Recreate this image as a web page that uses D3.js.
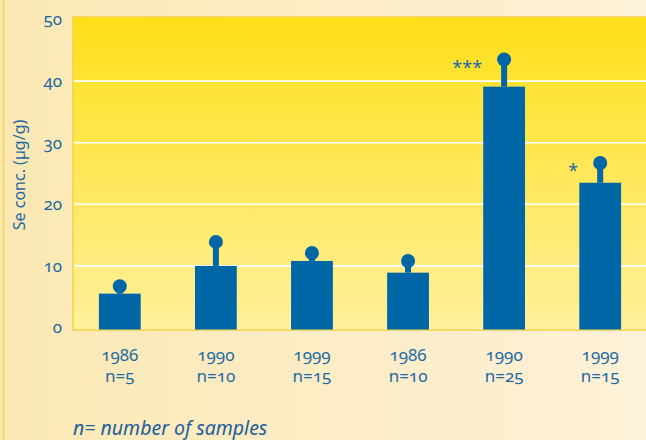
<!DOCTYPE html>
<html><head><meta charset="utf-8">
<script src="https://cdn.jsdelivr.net/npm/d3@7"></script>
<style>
html,body{margin:0;padding:0;background:#fbebb8;}
svg{display:block;}
text{font-family:"Noto Sans","DejaVu Sans",sans-serif;font-feature-settings:"onum" 1;font-variant-numeric:oldstyle-nums;}
</style></head><body>
<svg id="c" width="646" height="440"></svg>
<script>
const years = ["1986","1990","1999","1986","1990","1999"];
const nLabels = ["n=5","n=10","n=15","n=10","n=25","n=15"];
const values = [5.5, 10.0, 10.8, 8.9, 39.1, 23.5];
const errTop = [6.7, 13.9, 12.1, 10.8, 43.5, 26.7];
const signif = ["", "", "", "", "***", "*"];
const yTicks = [0, 10, 20, 30, 40, 50];

(function(){
const svg = d3.select("#c");
const W = 646, H = 440;
const blue = "#0066a6", txt = "#1d6aa5";
const defs = svg.append("defs");
const bg = defs.append("linearGradient").attr("id","bg").attr("x1",0).attr("x2",1).attr("y1",0).attr("y2",0);
bg.append("stop").attr("offset","0").attr("stop-color","#fbe8b3");
bg.append("stop").attr("offset","1").attr("stop-color","#fdf1d8");
const pg = defs.append("linearGradient").attr("id","pg").attr("x1",0).attr("x2",0).attr("y1",0).attr("y2",1);
pg.append("stop").attr("offset","0").attr("stop-color","#ffdf18");
pg.append("stop").attr("offset","1").attr("stop-color","#fff09c");

svg.append("rect").attr("width",W).attr("height",H).attr("fill","url(#bg)");
svg.append("line").attr("x1",3.5).attr("x2",3.5).attr("y1",0).attr("y2",H).attr("stroke","#f6d866").attr("stroke-width",2);

const pLeft = 73, pTop = 17, pRight = 650, pBottom = 330;
const y = d3.scaleLinear().domain([0,50]).range([327.5,19.5]);
const x = d3.scaleBand().domain(d3.range(years.length)).range([72, 648]).paddingInner(0.565).paddingOuter(0.28);

svg.append("rect").attr("x",pLeft).attr("y",pTop).attr("width",pRight-pLeft).attr("height",pBottom-pTop)
  .attr("fill","url(#pg)").attr("stroke","#f4d24a").attr("stroke-width",1.5);

svg.append("g").selectAll("line").data(yTicks.filter(d=>d>0 && d<50)).join("line")
  .attr("x1",pLeft+1).attr("x2",W).attr("y1",d=>y(d)).attr("y2",d=>y(d))
  .attr("stroke","#ffffff").attr("stroke-width",1.6);

const ya = svg.append("g").attr("transform",`translate(${pLeft},0)`)
  .call(d3.axisLeft(y).tickValues(yTicks).tickSize(0).tickPadding(11));
ya.select(".domain").remove();
ya.attr("font-family",null).attr("font-size",null);
ya.selectAll("text").attr("fill",txt).attr("font-size",17);

svg.append("text").attr("transform","translate(25,175) rotate(-90)").attr("text-anchor","middle")
  .attr("fill",txt).attr("font-size",16).text("Se conc. (µg/g)");

const g = svg.append("g");
years.forEach((yr,i)=>{
  const cx = x(i) + x.bandwidth()/2;
  g.append("rect").attr("width",6).attr("x",cx-3).attr("y",y(errTop[i])).attr("height",y(values[i])-y(errTop[i])).attr("fill",blue);
  g.append("rect").attr("x",x(i)).attr("width",x.bandwidth()).attr("y",y(values[i])).attr("height",y(0)-y(values[i])+2).attr("fill",blue);
  g.append("circle").attr("cx",cx).attr("cy",y(errTop[i])).attr("r",7).attr("fill",blue);
  if (signif[i]) {
    g.append("text").attr("x",cx-22).attr("y",y(errTop[i])+14).attr("text-anchor","end")
      .attr("fill",txt).attr("font-size",18).text(signif[i]);
  }
  g.append("text").attr("x",cx).attr("y",361).attr("text-anchor","middle").attr("fill",txt).attr("font-size",17).text(yr);
  g.append("text").attr("x",cx).attr("y",382).attr("text-anchor","middle").attr("fill",txt).attr("font-size",17).text(nLabels[i]);
});

svg.append("text").attr("x",73).attr("y",435).attr("fill","#1d5f9f").attr("font-size",19.5)
  .attr("font-style","italic").text("n= number of samples");
})();
</script>
</body></html>
